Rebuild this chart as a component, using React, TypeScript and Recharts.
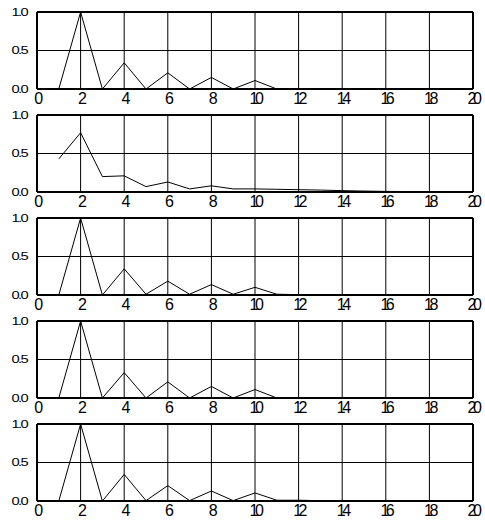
import { CartesianGrid, Line, LineChart, ReferenceLine, XAxis, YAxis } from "recharts";

const xs = [1, 2, 3, 4, 5, 6, 7, 8, 9, 10, 11, 12, 13, 14, 15, 16, 17, 18, 19, 20];

const panel1 = [0, 1, 0, 0.34, 0, 0.21, 0, 0.15, 0, 0.11, 0, 0, 0, 0, 0, 0, 0, 0, 0, 0];
const panel2 = [0.43, 0.77, 0.2, 0.21, 0.07, 0.13, 0.04, 0.08, 0.04, 0.04, 0.035, 0.03, 0.025, 0.018, 0.012, 0.008, 0.006, 0.005, 0.004, 0.003];
const panel3 = [0, 1, 0, 0.34, 0.01, 0.18, 0.01, 0.135, 0.01, 0.1, 0.01, 0.005, 0, 0, 0, 0, 0, 0, 0, 0];
const panel4 = [0, 1, 0, 0.33, 0, 0.21, 0, 0.15, 0, 0.11, 0, 0, 0, 0, 0, 0, 0, 0, 0, 0];
const panel5 = [0, 1, 0, 0.345, 0.005, 0.2, 0.005, 0.13, 0.005, 0.105, 0.01, 0.01, 0.005, 0, 0, 0, 0, 0, 0, 0];

const xTicks = [0, 2, 4, 6, 8, 10, 12, 14, 16, 18, 20];
const yTicks = [0, 0.5, 1];
const yLabels = ["0.0", "0.5", "1.0"];

const panels = [panel1, panel2, panel3, panel4, panel5];

const font = "'Liberation Sans', Arial, sans-serif";

function XTick({ x, y, payload }: any) {
  return (
    <text
      x={x}
      y={y}
      dy={11}
      textAnchor="middle"
      fontFamily={font}
      fontSize={16}
      letterSpacing={-3.5}
      fill="#000"
    >
      {payload.value}
    </text>
  );
}

function YTick({ x, y, payload }: any) {
  const label = yLabels[yTicks.indexOf(payload.value)];
  return (
    <g transform={`translate(${x},${y}) scale(1.4,1)`}>
      <text
        x={0}
        y={0}
        dy={3.8}
        textAnchor="end"
        fontFamily={font}
        fontSize={10.5}
        letterSpacing={-1.2}
        fill="#000"
      >
        {label}
      </text>
    </g>
  );
}

function Panel({ values }: { values: number[] }) {
  const data = xs.map((x, i) => ({ x, v: values[i] }));
  // chart is 10px taller than its slot so the x labels can hang into the next panel's gap
  return (
    <div style={{ height: 103 }}>
      <LineChart
        width={485}
        height={113}
        data={data}
        margin={{ top: 12, right: 12, bottom: 0, left: 0 }}
      >
        <CartesianGrid stroke="#000" strokeWidth={1} />
        <XAxis
          dataKey="x"
          type="number"
          domain={[0, 20]}
          ticks={xTicks}
          height={24}
          tickLine={false}
          tickSize={4}
          tickMargin={0}
          axisLine={{ stroke: "#000", strokeWidth: 2 }}
          tick={<XTick />}
          interval={0}
        />
        <YAxis
          type="number"
          domain={[0, 1]}
          ticks={yTicks}
          width={37}
          tickLine={false}
          tickSize={10}
          tickMargin={0}
          axisLine={{ stroke: "#000", strokeWidth: 2 }}
          tick={<YTick />}
          interval={0}
        />
        <ReferenceLine y={1} stroke="#000" strokeWidth={2} />
        <ReferenceLine x={20} stroke="#000" strokeWidth={2} />
        <Line
          dataKey="v"
          type="linear"
          stroke="#000"
          strokeWidth={1}
          dot={false}
          isAnimationActive={false}
        />
      </LineChart>
    </div>
  );
}

export default function App() {
  return (
    <div style={{ position: "absolute", left: 0, top: 0, width: 485, height: 524, background: "#fff" }}>
      {panels.map((p, i) => (
        <Panel key={i} values={p} />
      ))}
    </div>
  );
}
